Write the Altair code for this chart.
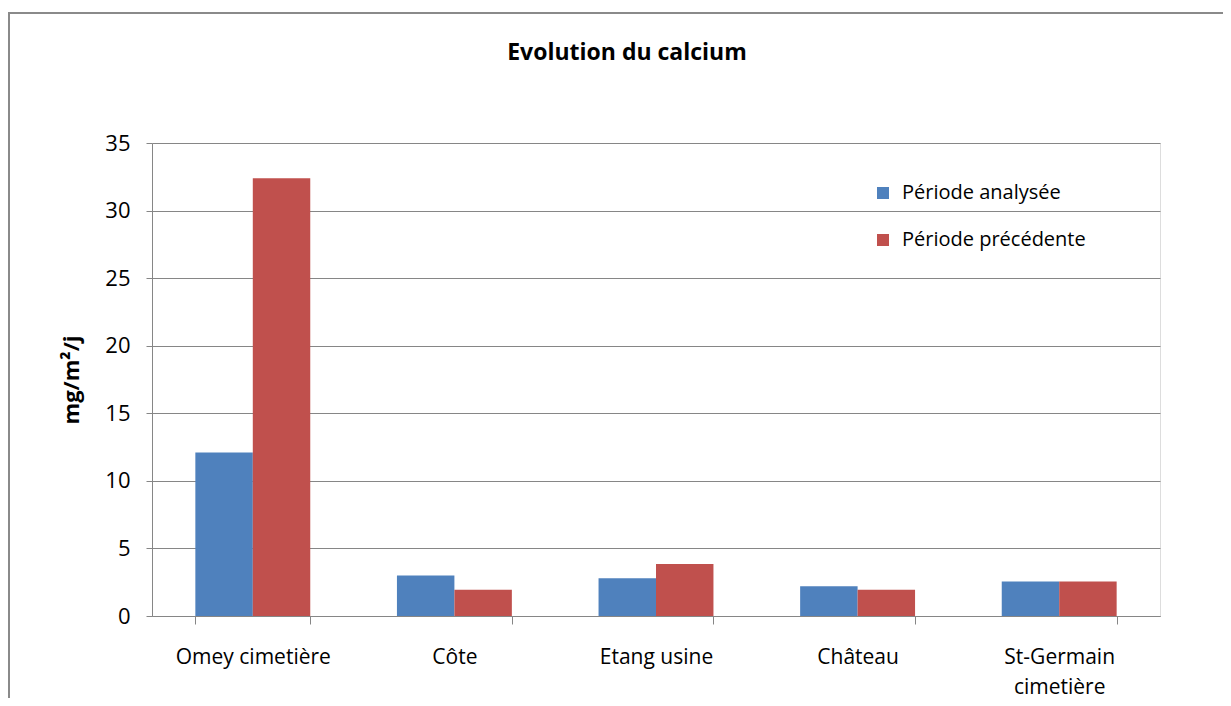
import altair as alt
import pandas as pd

categories = ["Omey cimetière", "Côte", "Etang usine", "Château", "St-Germain cimetière"]
series_names = ["Période analysée", "Période précédente"]
analysee = [12.1, 3.0, 2.8, 2.2, 2.55]
precedente = [32.4, 1.95, 3.85, 1.95, 2.55]
y_ticks = [0, 5, 10, 15, 20, 25, 30, 35]
colors = ["#4F81BD", "#C0504D"]

rows = []
for i, c in enumerate(categories):
    rows.append({"cat": c, "serie": series_names[0], "val": analysee[i]})
    rows.append({"cat": c, "serie": series_names[1], "val": precedente[i]})
df = pd.DataFrame(rows)

FONT = "Open Sans"
GREY = "#868686"
W, H = 1008, 473

bars = alt.Chart(df).mark_bar().encode(
    x=alt.X("cat:N", sort=categories, title=None,
            scale=alt.Scale(paddingInner=0.43, paddingOuter=0.215),
            axis=alt.Axis(tickBand="extent", tickSize=8, tickColor=GREY, domainColor=GREY,
                          grid=False,
                          labelAngle=0, labelFontSize=21, labelFont=FONT, labelColor="black",
                          labelPadding=22, labelLineHeight=30,
                          labelExpr="indexof(datum.label, 'St-Germain') >= 0 ? split(datum.label, ' ') : datum.label")),
    xOffset=alt.XOffset("serie:N", sort=series_names, scale=alt.Scale(paddingInner=0, paddingOuter=0)),
    y=alt.Y("val:Q", title="mg/m²/j",
            scale=alt.Scale(domain=[0, 35], nice=False),
            axis=alt.Axis(values=y_ticks, tickSize=6, tickColor=GREY, domainColor=GREY,
                          gridColor=GREY, gridWidth=1, labelFontSize=22, labelFont=FONT,
                          labelColor="black", labelPadding=16,
                          titleFont=FONT, titleFontSize=22, titleFontWeight="bold",
                          titleColor="black", titlePadding=21)),
    color=alt.Color("serie:N", sort=series_names,
                    scale=alt.Scale(domain=series_names, range=colors),
                    legend=alt.Legend(title=None, orient="none", legendX=721, legendY=40,
                                      symbolType="square", symbolSize=144, symbolStrokeWidth=0,
                                      labelFont=FONT, labelFontSize=20, labelColor="black",
                                      labelOffset=9, rowPadding=27, labelLimit=0)),
)

frame = alt.Chart(pd.DataFrame({"a": [0]})).mark_rect(
    fillOpacity=0, stroke="#8a8a8a", strokeWidth=2
).encode(x=alt.value(-143), x2=alt.value(1100), y=alt.value(-130), y2=alt.value(700))

chart = alt.layer(frame, bars).properties(
    width=W, height=H,
    title=alt.Title("Evolution du calcium", font=FONT, fontSize=23, fontWeight="bold",
                    color="black", anchor="middle", frame="group", dx=-29, offset=-53),
    autosize=alt.AutoSizeParams(type="none"),
    padding={"left": 144, "top": 135, "right": 63, "bottom": 82},
).configure_view(stroke="transparent", strokeWidth=0).configure(background="white")

chart.save("out.html", embed_options={"renderer": "svg", "actions": False})
